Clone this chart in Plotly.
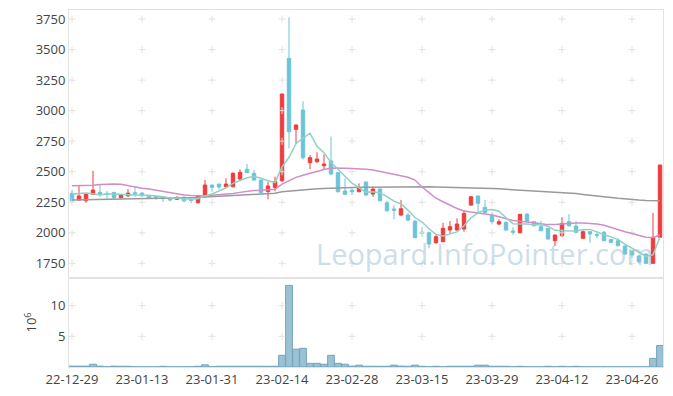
import plotly.graph_objects as go

dates = ['22-12-29', '23-01-02', '23-01-03', '23-01-04', '23-01-05', '23-01-06', '23-01-09', '23-01-10', '23-01-11', '23-01-12',
         '23-01-13', '23-01-16', '23-01-17', '23-01-18', '23-01-19', '23-01-20', '23-01-25', '23-01-26', '23-01-27', '23-01-30',
         '23-01-31', '23-02-01', '23-02-02', '23-02-03', '23-02-06', '23-02-07', '23-02-08', '23-02-09', '23-02-10', '23-02-13',
         '23-02-14', '23-02-15', '23-02-16', '23-02-17', '23-02-20', '23-02-21', '23-02-22', '23-02-23', '23-02-24', '23-02-27',
         '23-02-28', '23-03-02', '23-03-03', '23-03-06', '23-03-07', '23-03-08', '23-03-09', '23-03-10', '23-03-13', '23-03-14',
         '23-03-15', '23-03-16', '23-03-17', '23-03-20', '23-03-21', '23-03-22', '23-03-23', '23-03-24', '23-03-27', '23-03-28',
         '23-03-29', '23-03-30', '23-03-31', '23-04-03', '23-04-04', '23-04-05', '23-04-06', '23-04-07', '23-04-10', '23-04-11',
         '23-04-12', '23-04-13', '23-04-14', '23-04-17', '23-04-18', '23-04-19', '23-04-20', '23-04-21', '23-04-24', '23-04-25',
         '23-04-26', '23-04-27', '23-04-28', '23-05-02', '23-05-03']

open_ = [2323, 2268, 2262, 2315, 2331, 2323, 2331, 2287, 2303, 2328,
         2325, 2305, 2298, 2296, 2276, 2274, 2290, 2274, 2246, 2309,
         2391, 2399, 2377, 2377, 2440, 2520, 2487, 2432, 2338, 2372,
         2426, 3428, 2847, 3005, 2574, 2582, 2549, 2588, 2492, 2342,
         2348, 2336, 2416, 2317, 2358, 2246, 2195, 2145, 2145, 2096,
         2006, 2001, 1919, 1927, 2023, 2023, 2031, 2227, 2301, 2208,
         2140, 2072, 2086, 2014, 2001, 2153, 2091, 2050, 2037, 1935,
         1976, 2091, 2055, 1955, 2009, 1985, 2004, 1946, 1935, 1892,
         1851, 1810, 1826, 1750, 1963]
high = [2350, 2385, 2320, 2508, 2397, 2342, 2335, 2315, 2358, 2380,
        2335, 2310, 2305, 2300, 2290, 2298, 2300, 2285, 2310, 2432,
        2395, 2402, 2446, 2495, 2518, 2563, 2515, 2435, 2418, 2460,
        3140, 3764, 2888, 3077, 2637, 2659, 2642, 2787, 2495, 2446,
        2369, 2405, 2418, 2377, 2362, 2260, 2227, 2268, 2165, 2100,
        2045, 2010, 1985, 2082, 2096, 2118, 2186, 2303, 2305, 2268,
        2167, 2110, 2090, 2045, 2155, 2160, 2096, 2099, 2040, 1985,
        2127, 2153, 2096, 2020, 2015, 2009, 2015, 1950, 1955, 1895,
        1855, 1815, 1830, 2164, 2555]
low = [2241, 2265, 2246, 2312, 2295, 2274, 2282, 2278, 2292, 2295,
       2295, 2280, 2270, 2252, 2258, 2268, 2250, 2241, 2240, 2290,
       2336, 2356, 2372, 2377, 2435, 2490, 2425, 2325, 2274, 2340,
       2415, 2691, 2732, 2600, 2522, 2569, 2520, 2475, 2330, 2312,
       2309, 2333, 2305, 2295, 2260, 2172, 2110, 2140, 2095, 1958,
       1968, 1873, 1910, 1925, 1996, 2015, 2009, 2222, 2167, 2160,
       2069, 2060, 2018, 1982, 1995, 2090, 2050, 2012, 1945, 1892,
       1968, 2050, 2000, 1950, 1919, 1955, 1932, 1918, 1890, 1822,
       1791, 1750, 1745, 1748, 1960]
close = [2262, 2301, 2317, 2350, 2315, 2315, 2287, 2309, 2325, 2318,
         2303, 2284, 2292, 2280, 2270, 2290, 2262, 2266, 2301, 2391,
         2372, 2375, 2399, 2487, 2495, 2492, 2432, 2328, 2383, 2418,
         3136, 2827, 2882, 2615, 2615, 2604, 2563, 2481, 2336, 2315,
         2336, 2369, 2309, 2358, 2262, 2181, 2184, 2197, 2104, 1960,
         1996, 1908, 1968, 2037, 2050, 2072, 2159, 2295, 2241, 2167,
         2091, 2091, 2023, 2004, 2151, 2096, 2058, 2017, 1949, 1982,
         2077, 2058, 2004, 2009, 1990, 1980, 1935, 1922, 1894, 1826,
         1818, 1763, 1750, 1963, 2555]

ma5 = [2318, 2322, 2326, 2320, 2309, 2320, 2317, 2315, 2310, 2311,
       2308, 2308, 2304, 2295, 2286, 2283, 2279, 2274, 2278, 2302,
       2318, 2341, 2368, 2405, 2426, 2450, 2461, 2447, 2426, 2411,
       2539, 2618, 2729, 2776, 2815, 2709, 2656, 2576, 2520, 2460,
       2406, 2367, 2333, 2337, 2327, 2296, 2259, 2236, 2186, 2125,
       2088, 2033, 1987, 1974, 1992, 2007, 2057, 2123, 2163, 2187,
       2191, 2177, 2123, 2075, 2072, 2073, 2066, 2065, 2054, 2020,
       2017, 2017, 2014, 2026, 2028, 2008, 1984, 1967, 1944, 1907,
       1875, 1841, 1806, 1820, 1966]
ma20 = [2385, 2385, 2386, 2390, 2395, 2398, 2399, 2397, 2385, 2372,
        2365, 2358, 2348, 2335, 2326, 2318, 2310, 2305, 2302, 2302,
        2307, 2311, 2315, 2322, 2331, 2340, 2347, 2348, 2351, 2356,
        2398, 2425, 2454, 2471, 2488, 2504, 2519, 2530, 2532, 2528,
        2526, 2526, 2521, 2515, 2503, 2488, 2475, 2469, 2455, 2432,
        2375, 2329, 2283, 2254, 2226, 2199, 2179, 2170, 2165, 2158,
        2145, 2132, 2117, 2100, 2094, 2090, 2083, 2074, 2067, 2068,
        2072, 2079, 2081, 2080, 2077, 2072, 2061, 2042, 2025, 2008,
        1994, 1978, 1964, 1962, 1982]
ma60 = [2268, 2269, 2270, 2271, 2272, 2273, 2274, 2275, 2276, 2277,
        2278, 2279, 2280, 2281, 2282, 2283, 2285, 2287, 2290, 2293,
        2296, 2299, 2302, 2305, 2308, 2311, 2314, 2317, 2320, 2323,
        2336, 2342, 2348, 2352, 2356, 2360, 2363, 2366, 2368, 2370,
        2371, 2372, 2373, 2374, 2375, 2376, 2377, 2378, 2378, 2378,
        2378, 2377, 2376, 2375, 2374, 2372, 2370, 2368, 2366, 2364,
        2362, 2360, 2357, 2354, 2351, 2348, 2345, 2341, 2337, 2333,
        2330, 2326, 2321, 2314, 2306, 2300, 2294, 2288, 2282, 2276,
        2272, 2268, 2265, 2263, 2262]

volume_millions = [0.15, 0.15, 0.15, 0.45, 0.15, 0.05, 0.15, 0.12, 0.12, 0.04,
                   0.04, 0.04, 0.04, 0.12, 0.04, 0.04, 0.04, 0.05, 0.12, 0.35,
                   0.05, 0.12, 0.12, 0.12, 0.12, 0.12, 0.12, 0.12, 0.12, 0.12,
                   1.9, 13.3, 2.9, 3.05, 0.6, 0.6, 0.45, 1.9, 0.6, 0.45,
                   0.15, 0.3, 0.12, 0.12, 0.12, 0.12, 0.3, 0.15, 0.12, 0.3,
                   0.12, 0.04, 0.12, 0.04, 0.12, 0.12, 0.12, 0.12, 0.3, 0.3,
                   0.12, 0.12, 0.12, 0.04, 0.12, 0.04, 0.04, 0.04, 0.12, 0.04,
                   0.12, 0.04, 0.12, 0.04, 0.04, 0.04, 0.04, 0.04, 0.04, 0.04,
                   0.04, 0.04, 0.04, 1.4, 3.5]

tick_labels = ['22-12-29', '23-01-13', '23-01-31', '23-02-14', '23-02-28',
               '23-03-15', '23-03-29', '23-04-12', '23-04-26']
price_ticks = [1750, 2000, 2250, 2500, 2750, 3000, 3250, 3500, 3750]
volume_ticks = [5, 10]

FONT = 'Open Sans'
GRID = '#e2e2e2'
FRAME = '#e3e3e3'

fig = go.Figure()

# "+" grid marks at tick intersections
gx, gy = [], []
for t in tick_labels:
    for p in price_ticks:
        gx.append(t); gy.append(p)
fig.add_trace(go.Scatter(x=gx, y=gy, mode='markers', xaxis='x2', yaxis='y2',
                         marker=dict(symbol='cross-thin', size=5, line=dict(color=GRID, width=1)),
                         hoverinfo='skip', showlegend=False))
vx, vy = [], []
for t in tick_labels:
    for p in volume_ticks:
        vx.append(t); vy.append(p)
fig.add_trace(go.Scatter(x=vx, y=vy, mode='markers', xaxis='x', yaxis='y',
                         marker=dict(symbol='cross-thin', size=5, line=dict(color=GRID, width=1)),
                         hoverinfo='skip', showlegend=False))

fig.add_trace(go.Scatter(x=dates, y=ma60, mode='lines', xaxis='x2', yaxis='y2',
                         line=dict(color='#9a9a9a', width=1.5), showlegend=False, hoverinfo='skip'))
fig.add_trace(go.Scatter(x=dates, y=ma20, mode='lines', xaxis='x2', yaxis='y2',
                         line=dict(color='#cf8ec8', width=1.5), showlegend=False, hoverinfo='skip'))
fig.add_trace(go.Scatter(x=dates, y=ma5, mode='lines', xaxis='x2', yaxis='y2',
                         line=dict(color='#8fd1c2', width=1.5), showlegend=False, hoverinfo='skip'))

fig.add_trace(go.Candlestick(x=dates, open=open_, high=high, low=low, close=close,
                             xaxis='x2', yaxis='y2', whiskerwidth=0,
                             increasing=dict(line=dict(color='#ef3d3d', width=1), fillcolor='#ef3d3d'),
                             decreasing=dict(line=dict(color='#6cc4d9', width=1), fillcolor='#6cc4d9'),
                             showlegend=False))

fig.add_trace(go.Bar(x=dates, y=volume_millions, xaxis='x', yaxis='y',
                     marker=dict(color='#9bc1d3', line=dict(color='#72a4bd', width=1)),
                     showlegend=False))

split = 89 / 357
xrange = [-0.43, 84.43]
fig.update_layout(
    width=673, height=396,
    margin=dict(l=69, r=10, t=10, b=29),
    paper_bgcolor='white', plot_bgcolor='white',
    font=dict(family=FONT, size=13, color='#444'),
    bargap=0.04,
    xaxis=dict(domain=[0, 1], anchor='y', type='category', categoryorder='array', categoryarray=dates,
               range=xrange, tickmode='array', tickvals=tick_labels, ticktext=tick_labels,
               showgrid=False, zeroline=False, showline=True, linecolor=FRAME, mirror=True,
               ticks='', rangeslider=dict(visible=False), tickfont=dict(size=13, color='#444'),
               automargin=False),
    xaxis2=dict(domain=[0, 1], anchor='y2', type='category', categoryorder='array', categoryarray=dates,
                range=xrange, matches='x', showticklabels=False, showgrid=False, zeroline=False,
                showline=True, linecolor=FRAME, mirror=True, ticks='', rangeslider=dict(visible=False),
                automargin=False),
    yaxis=dict(domain=[0, split], range=[0, 14.5], tickmode='array', tickvals=volume_ticks,
               showgrid=False, zeroline=False, showline=True, linecolor=FRAME, mirror=True, ticks='',
               title=dict(text='10<sup>6</sup>', standoff=10, font=dict(size=13, color='#444')),
               tickfont=dict(size=13, color='#444'), automargin=False),
    yaxis2=dict(domain=[split, 1], range=[1630, 3824], tickmode='array', tickvals=price_ticks,
                showgrid=False, zeroline=False, showline=True, linecolor=FRAME, mirror=True, ticks='',
                tickfont=dict(size=13, color='#444'), automargin=False),
)

fig.add_annotation(text='Leopard.InfoPointer.com', xref='paper', yref='paper',
                   x=(484 - 69) / 594, y=(367 - 253) / 357, xanchor='center', yanchor='middle',
                   showarrow=False,
                   font=dict(family=FONT, size=29, color='rgba(160,193,213,0.55)'))

fig.write_html('out.html', config={'displayModeBar': False},
               post_script="document.body.style.margin='0';")
